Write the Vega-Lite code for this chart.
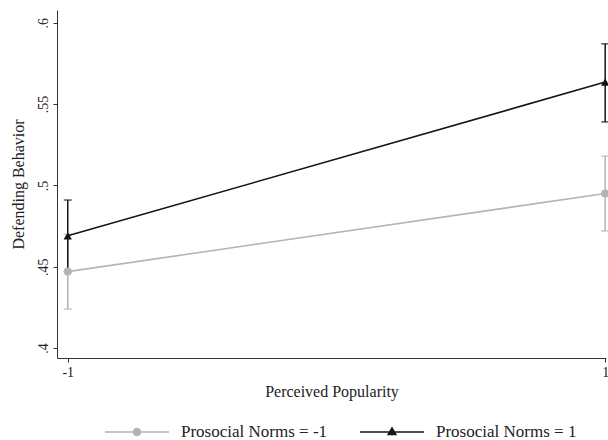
{
  "$schema": "https://vega.github.io/schema/vega-lite/v6.json",
  "width": 549,
  "height": 348,
  "autosize": {"type": "none"},
  "padding": {"left": 57, "top": 10, "right": 2, "bottom": 82},
  "background": "white",
  "config": {
    "view": {"stroke": null},
    "font": "Liberation Serif",
    "axis": {
      "labelFont": "Liberation Serif",
      "titleFont": "Liberation Serif",
      "labelColor": "#222222",
      "titleColor": "#222222",
      "titleFontWeight": "normal",
      "domainColor": "#333333",
      "tickColor": "#333333",
      "grid": false
    }
  },
  "data": {
    "values": [
      {"pop": -1, "group": "Prosocial Norms = -1", "est": 0.447, "lo": 0.424, "hi": 0.470},
      {"pop": 1, "group": "Prosocial Norms = -1", "est": 0.495, "lo": 0.472, "hi": 0.518},
      {"pop": -1, "group": "Prosocial Norms = 1", "est": 0.469, "lo": 0.447, "hi": 0.491},
      {"pop": 1, "group": "Prosocial Norms = 1", "est": 0.5635, "lo": 0.539, "hi": 0.587}
    ]
  },
  "encoding": {
    "x": {
      "field": "pop", "type": "quantitative",
      "scale": {"domain": [-1.04, 1.003], "nice": false, "zero": false},
      "axis": {
        "title": "Perceived Popularity", "values": [-1, 1],
        "labelExpr": "datum.value < 0 ? '-1' : '1'",
        "labelFontSize": 14, "titleFontSize": 16, "tickSize": 4,
        "labelPadding": 3, "titlePadding": 4, "labelFlush": false
      }
    },
    "color": {
      "field": "group", "type": "nominal",
      "scale": {"domain": ["Prosocial Norms = -1", "Prosocial Norms = 1"], "range": ["#b4b4b4", "#141414"]},
      "legend": {
        "orient": "none", "legendX": 48, "legendY": 390, "direction": "horizontal",
        "title": null, "symbolSize": 4096, "labelFont": "Liberation Serif",
        "labelFontSize": 17, "labelColor": "#222222", "labelOffset": 12,
        "columnPadding": 32, "padding": 0,
        "encode": {
          "symbols": {
            "update": {
              "shape": {"signal": "datum.value === 'Prosocial Norms = -1' ? 'M-1,-0.022L1,-0.022L1,0.022L-1,0.022Z M-0.135,0A0.135,0.135 0 1,1 0.135,0A0.135,0.135 0 1,1 -0.135,0Z' : 'M-1,-0.022L1,-0.022L1,0.022L-1,0.022Z M0,-0.17L0.16,0.1L-0.16,0.1Z'"},
              "fill": {"signal": "datum.value === 'Prosocial Norms = -1' ? '#b4b4b4' : '#141414'"},
              "strokeWidth": {"value": 0},
              "opacity": {"value": 1},
              "fillOpacity": {"value": 1}
            }
          }
        }
      }
    }
  },
  "layer": [
    {
      "mark": {"type": "rule", "strokeWidth": 1.5},
      "encoding": {
        "y": {
          "field": "lo", "type": "quantitative",
          "scale": {"domain": [0.3939, 0.6078], "nice": false, "zero": false},
          "axis": {
            "title": "Defending Behavior", "values": [0.4, 0.45, 0.5, 0.55, 0.6],
            "labelExpr": "replace(format(datum.value, '.2~f'), /^0/, '')",
            "labelAngle": -90, "labelAlign": "center", "labelBaseline": "bottom",
            "labelFontSize": 14, "titleFontSize": 16, "tickSize": 4,
            "labelPadding": 3, "titlePadding": 10
          }
        },
        "y2": {"field": "hi"}
      }
    },
    {
      "mark": {"type": "tick", "orient": "horizontal", "size": 8, "thickness": 1.5},
      "encoding": {"y": {"field": "lo", "type": "quantitative"}}
    },
    {
      "mark": {"type": "tick", "orient": "horizontal", "size": 8, "thickness": 1.5},
      "encoding": {"y": {"field": "hi", "type": "quantitative"}}
    },
    {
      "mark": {"type": "line", "strokeWidth": 1.6},
      "encoding": {"y": {"field": "est", "type": "quantitative"}}
    },
    {
      "transform": [{"filter": "datum.group === 'Prosocial Norms = -1'"}],
      "mark": {"type": "point", "shape": "circle", "filled": true, "opacity": 1, "size": 65},
      "encoding": {"y": {"field": "est", "type": "quantitative"}}
    },
    {
      "transform": [{"filter": "datum.group === 'Prosocial Norms = 1'"}],
      "mark": {"type": "point", "shape": "triangle-up", "filled": true, "opacity": 1, "size": 70},
      "encoding": {"y": {"field": "est", "type": "quantitative"}}
    }
  ]
}
